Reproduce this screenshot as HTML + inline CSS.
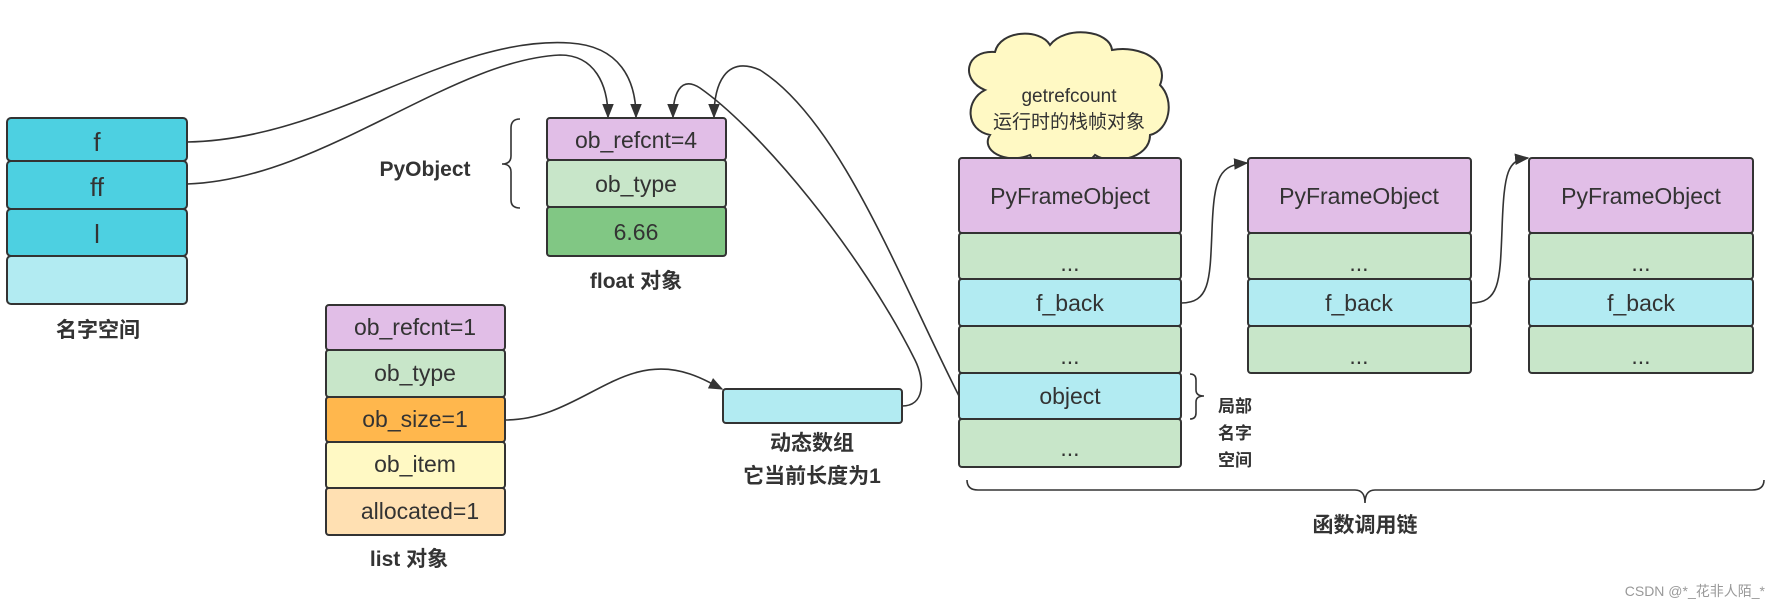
<!DOCTYPE html>
<html><head><meta charset="utf-8"><style>
html,body{margin:0;padding:0;background:#fff;width:1772px;height:610px;overflow:hidden}
svg text{font-family:"Liberation Sans","Noto Sans CJK SC",sans-serif;fill:#333}
.t{font-size:23px;text-anchor:middle}
.b{font-size:21px;font-weight:bold;text-anchor:middle}
.r{stroke:#333;stroke-width:2}
.l{fill:none;stroke:#333;stroke-width:1.6}
</style></head><body>
<svg width="1772" height="610" viewBox="0 0 1772 610" xmlns="http://www.w3.org/2000/svg">
<defs><marker id="a" viewBox="0 0 10 10" refX="9" refY="5" markerWidth="9" markerHeight="9" orient="auto"><path d="M0,1 L10,5 L0,9 z" fill="#333"/></marker></defs>

<!-- namespace -->
<rect class="r" x="7" y="118" width="180" height="43" rx="4" fill="#4dd0e1"/>
<rect class="r" x="7" y="161" width="180" height="48" rx="4" fill="#4dd0e1"/>
<rect class="r" x="7" y="209" width="180" height="47" rx="4" fill="#4dd0e1"/>
<rect class="r" x="7" y="256" width="180" height="48" rx="4" fill="#b2ebf2"/>
<text class="t" x="97" y="151" style="font-size:26px">f</text>
<text class="t" x="97" y="196" style="font-size:26px">ff</text>
<text class="t" x="97" y="243" style="font-size:26px">l</text>
<text class="b" x="98" y="337">名字空间</text>

<!-- float -->
<rect class="r" x="547" y="118" width="179" height="42" rx="3" fill="#e1bee7"/>
<rect class="r" x="547" y="160" width="179" height="47" rx="3" fill="#c8e6c9"/>
<rect class="r" x="547" y="207" width="179" height="49" rx="3" fill="#81c784"/>
<text class="t" x="636" y="148">ob_refcnt=4</text>
<text class="t" x="636" y="192">ob_type</text>
<text class="t" x="636" y="240">6.66</text>
<text class="b" x="636" y="288">float 对象</text>
<text class="b" x="425" y="176">PyObject</text>
<path class="l" d="M520,119 Q511,119 511,128 L511,156 Q511,164 502,164 Q511,164 511,172 L511,200 Q511,208 520,208"/>

<!-- list -->
<rect class="r" x="326" y="305" width="179" height="45" rx="3" fill="#e1bee7"/>
<rect class="r" x="326" y="350" width="179" height="47" rx="3" fill="#c8e6c9"/>
<rect class="r" x="326" y="397" width="179" height="45" rx="3" fill="#ffb74d"/>
<rect class="r" x="326" y="442" width="179" height="46" rx="3" fill="#fff9c4"/>
<rect class="r" x="326" y="488" width="179" height="47" rx="3" fill="#ffe0b2"/>
<text class="t" x="415" y="335">ob_refcnt=1</text>
<text class="t" x="415" y="381">ob_type</text>
<text class="t" x="415" y="427">ob_size=1</text>
<text class="t" x="415" y="472">ob_item</text>
<text class="t" x="420" y="519">allocated=1</text>
<text class="b" x="409" y="566">list 对象</text>

<!-- dynamic array -->
<rect class="r" x="723" y="389" width="179" height="34" rx="3" fill="#b2ebf2"/>
<text class="b" x="812" y="450">动态数组</text>
<text class="b" x="812" y="483">它当前长度为1</text>

<!-- cloud -->
<path d="M985,90 C960,80 965,50 995,52 C1000,30 1040,28 1050,45 C1065,25 1110,30 1112,50 C1140,45 1170,60 1160,85 C1175,100 1170,130 1150,135 C1150,160 1110,165 1095,155 C1080,175 1035,170 1030,155 C1005,165 980,150 990,135 C965,130 965,100 985,90 Z" fill="#fff9c4" stroke="#333" stroke-width="2"/>
<text x="1069" y="102" style="font-size:19px;text-anchor:middle">getrefcount</text>
<text x="1069" y="128" style="font-size:19px;text-anchor:middle">运行时的栈帧对象</text>

<!-- frames -->
<g>
<rect class="r" x="959" y="158" width="222" height="75" rx="3" fill="#e1bee7"/>
<rect class="r" x="959" y="233" width="222" height="46" rx="3" fill="#c8e6c9"/>
<rect class="r" x="959" y="279" width="222" height="47" rx="3" fill="#b2ebf2"/>
<rect class="r" x="959" y="326" width="222" height="47" rx="3" fill="#c8e6c9"/>
<rect class="r" x="959" y="373" width="222" height="46" rx="3" fill="#b2ebf2"/>
<rect class="r" x="959" y="419" width="222" height="48" rx="3" fill="#c8e6c9"/>
<text class="t" x="1070" y="204">PyFrameObject</text>
<text class="t" x="1070" y="271">...</text>
<text class="t" x="1070" y="311">f_back</text>
<text class="t" x="1070" y="364">...</text>
<text class="t" x="1070" y="404">object</text>
<text class="t" x="1070" y="456">...</text>
</g>
<g>
<rect class="r" x="1248" y="158" width="223" height="75" rx="3" fill="#e1bee7"/>
<rect class="r" x="1248" y="233" width="223" height="46" rx="3" fill="#c8e6c9"/>
<rect class="r" x="1248" y="279" width="223" height="47" rx="3" fill="#b2ebf2"/>
<rect class="r" x="1248" y="326" width="223" height="47" rx="3" fill="#c8e6c9"/>
<text class="t" x="1359" y="204">PyFrameObject</text>
<text class="t" x="1359" y="271">...</text>
<text class="t" x="1359" y="311">f_back</text>
<text class="t" x="1359" y="364">...</text>
</g>
<g>
<rect class="r" x="1529" y="158" width="224" height="75" rx="3" fill="#e1bee7"/>
<rect class="r" x="1529" y="233" width="224" height="46" rx="3" fill="#c8e6c9"/>
<rect class="r" x="1529" y="279" width="224" height="47" rx="3" fill="#b2ebf2"/>
<rect class="r" x="1529" y="326" width="224" height="47" rx="3" fill="#c8e6c9"/>
<text class="t" x="1641" y="204">PyFrameObject</text>
<text class="t" x="1641" y="271">...</text>
<text class="t" x="1641" y="311">f_back</text>
<text class="t" x="1641" y="364">...</text>
</g>

<!-- small brace + label -->
<path class="l" d="M1190,374 Q1196,374 1196,380 L1196,390 Q1196,396 1204,396 Q1196,396 1196,402 L1196,413 Q1196,419 1190,419"/>
<text x="1218" y="412" style="font-size:17px;font-weight:bold">局部</text>
<text x="1218" y="439" style="font-size:17px;font-weight:bold">名字</text>
<text x="1218" y="466" style="font-size:17px;font-weight:bold">空间</text>

<!-- bottom brace -->
<path class="l" d="M967,480 Q967,490 978,490 L1355,490 Q1365,490 1365,503 Q1365,490 1375,490 L1752,490 Q1764,490 1764,480"/>
<text class="b" x="1365" y="532">函数调用链</text>

<text x="1765" y="596" style="font-size:14px;text-anchor:end;fill:#999">CSDN @*_花非人陌_*</text>

<!-- connectors -->
<path class="l" marker-end="url(#a)" d="M187,142 C330,140 450,35 570,43 C620,46 636,80 636,117"/>
<path class="l" marker-end="url(#a)" d="M187,184 C320,180 450,60 560,55 C595,55 608,85 608,117"/>
<path class="l" marker-end="url(#a)" d="M902,406 C925,406 925,380 915,360 C860,250 760,130 700,88 C680,75 673,95 673,117"/>
<path class="l" marker-end="url(#a)" d="M959,396 C900,280 840,120 760,70 C725,55 714,85 714,117"/>
<path class="l" marker-end="url(#a)" d="M505,420 C580,420 620,350 690,374 C705,379 712,384 722,389"/>
<path class="l" marker-end="url(#a)" d="M1181,303 C1210,303 1210,280 1212,230 C1214,175 1220,165 1247,163"/>
<path class="l" marker-end="url(#a)" d="M1471,303 C1500,303 1500,280 1502,230 C1504,170 1508,160 1528,158"/>
</svg>
</body></html>
